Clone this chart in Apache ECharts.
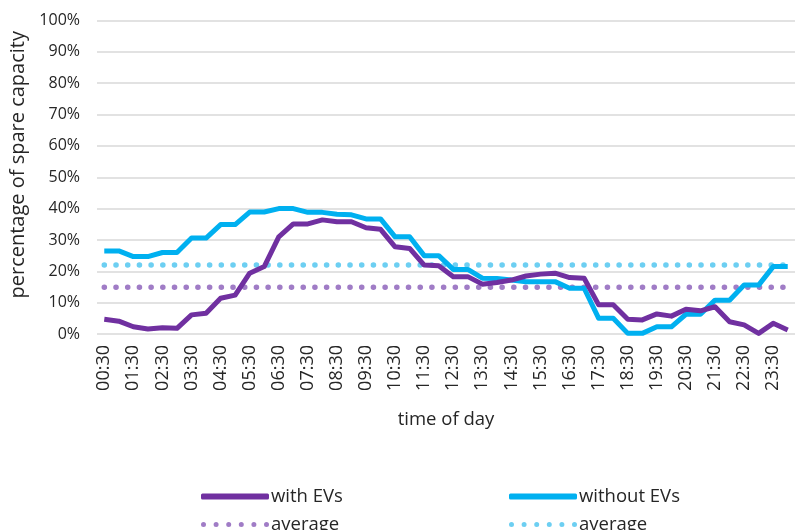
<!DOCTYPE html>
<html>
<head>
<meta charset="utf-8">
<script src="https://cdn.jsdelivr.net/npm/echarts@6/dist/echarts.min.js"></script>
<style>html,body{margin:0;padding:0;background:#fff}#c{width:802px;height:530px}</style>
</head>
<body>
<div id="c"></div>
<script>
var categories = ['00:30','01:00','01:30','02:00','02:30','03:00','03:30','04:00','04:30','05:00','05:30','06:00','06:30','07:00','07:30','08:00','08:30','09:00','09:30','10:00','10:30','11:00','11:30','12:00','12:30','13:00','13:30','14:00','14:30','15:00','15:30','16:00','16:30','17:00','17:30','18:00','18:30','19:00','19:30','20:00','20:30','21:00','21:30','22:00','22:30','23:00','23:30','00:00'];
var withEVs = [4.7,4.1,2.3,1.6,2.0,1.8,6.1,6.6,11.4,12.4,19.4,21.5,31.0,35.1,35.1,36.4,35.8,35.8,33.9,33.4,27.8,27.3,22.0,21.8,18.3,18.3,15.9,16.4,17.2,18.5,19.1,19.4,18.0,17.8,9.3,9.3,4.7,4.5,6.4,5.7,7.9,7.4,8.7,3.9,2.9,0.2,3.4,1.3];
var withoutEVs = [26.5,26.5,24.7,24.7,26,26,30.6,30.6,34.9,34.9,38.9,38.9,40,40,38.8,38.8,38.2,38,36.7,36.7,31,31,25,25,20.6,20.6,17.8,17.7,17.2,16.7,16.7,16.7,14.6,14.6,5,5,0.2,0.2,2.3,2.3,6.3,6.3,10.8,10.8,15.6,15.6,21.5,21.5];
var avgWithEVs = 14.9;
var avgWithoutEVs = 22.0;
var yTicks = [0,10,20,30,40,50,60,70,80,90,100];

var avgWithData = categories.map(function(){return avgWithEVs;});
var avgWithoutData = categories.map(function(){return avgWithoutEVs;});

var FONT = 'Open Sans';
var TXT = '#262626';
var PURPLE = '#7030a0', BLUE = '#00b0f0', PDOT = '#a07cc6', BDOT = '#6dcff2';

function dotsPath(n, r, gap){
  var p = '';
  for (var i=0;i<n;i++){
    var cx = r + i*gap;
    p += 'M'+(cx-r)+' '+r+'A'+r+' '+r+' 0 1 0 '+(cx+r)+' '+r+'A'+r+' '+r+' 0 1 0 '+(cx-r)+' '+r+'Z';
  }
  return 'path://'+p;
}
var DOTS = dotsPath(6, 2.5, 12.6);

var chart = echarts.init(document.getElementById('c'), null, {renderer:'canvas'});
var dotStyleP = {color:PDOT, width:5.5, type:[0.1,11.6], cap:'round'};
var dotStyleB = {color:BDOT, width:5.5, type:[0.1,11.6], cap:'round'};

function leg(left, top, name, icon, h){
  return {left:left, top:top, orient:'horizontal', itemWidth:68, itemHeight:h,
    textStyle:{color:TXT, fontSize:18.5, fontFamily:FONT, padding:[0,0,0,-3]},
    data:[{name:name, icon:icon}],
    formatter:function(n){return n.indexOf('avg')===0?'average':n;}};
}

chart.setOption({
  animation:false,
  textStyle:{fontFamily:FONT},
  grid:{left:97, right:7, top:20.5, bottom:196, containLabel:false},
  xAxis:{
    type:'category', data:categories, boundaryGap:true,
    axisLine:{show:false}, axisTick:{show:false},
    axisLabel:{interval:1, rotate:90, color:TXT, fontSize:18, fontFamily:FONT, margin:11},
    name:'time of day', nameLocation:'middle', nameGap:76,
    nameTextStyle:{color:TXT, fontSize:18.5, fontFamily:FONT}
  },
  yAxis:{
    type:'value', min:0, max:100, interval:10,
    axisLine:{show:false}, axisTick:{show:false},
    splitLine:{lineStyle:{color:'#d9d9d9', width:1.5}},
    axisLabel:{color:TXT, fontSize:16, fontFamily:FONT, margin:17, formatter:function(v){return yTicks.indexOf(v)>=0? v+'%':'';}},
    name:'percentage of spare capacity', nameLocation:'middle', nameGap:64,
    nameTextStyle:{color:TXT, fontSize:20, fontFamily:FONT, padding:[0,0,0,25]}
  },
  legend:[
    leg(196, 482, 'with EVs', 'roundRect', 6),
    leg(196, 510, 'avgWith', DOTS, 5),
    leg(504, 482, 'without EVs', 'roundRect', 6),
    leg(504, 510, 'avgWithout', DOTS, 5)
  ],
  series:[
    {name:'avgWith', type:'line', data:avgWithData, symbol:'none', lineStyle:dotStyleP, itemStyle:{color:PDOT}, z:1},
    {name:'avgWithout', type:'line', data:avgWithoutData, symbol:'none', lineStyle:dotStyleB, itemStyle:{color:BDOT}, z:1},
    {name:'with EVs', type:'line', data:withEVs, symbol:'none', lineStyle:{color:PURPLE, width:5, join:'round'}, itemStyle:{color:PURPLE}, z:3},
    {name:'without EVs', type:'line', data:withoutEVs, symbol:'none', lineStyle:{color:BLUE, width:5, join:'round'}, itemStyle:{color:BLUE}, z:2}
  ]
});
</script>
</body>
</html>
